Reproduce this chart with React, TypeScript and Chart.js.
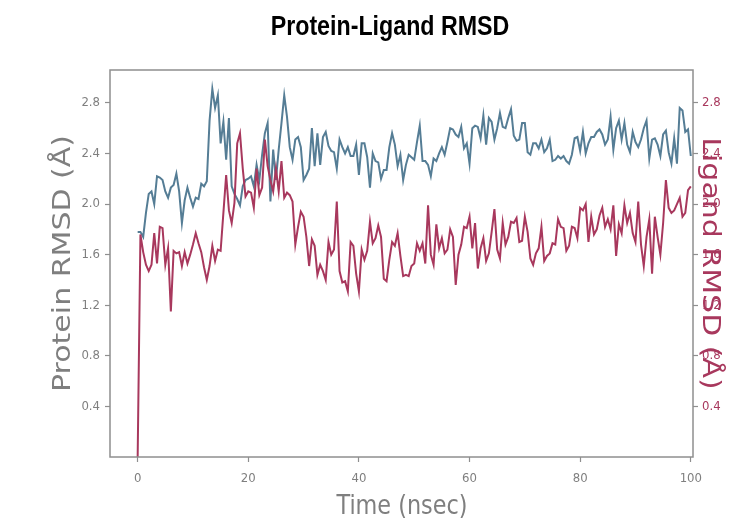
import React, { useEffect, useRef } from "react";
import { Chart, registerables } from "chart.js";

Chart.register(...registerables);

const TIME_STEP_NS = 0.5;

const proteinRmsd = [
  1.78, 1.78, 1.74, 1.93, 2.08, 2.10, 2.00, 2.22, 2.21, 2.19,
  2.10, 2.05, 2.13, 2.15, 2.24, 2.10, 1.85, 2.03, 2.13, 2.05,
  1.98, 2.05, 2.04, 2.16, 2.14, 2.18, 2.66, 2.91, 2.76, 2.86,
  2.48, 2.65, 2.35, 2.68, 2.14, 2.08, 2.04, 1.99, 2.14, 2.19,
  2.20, 2.22, 2.14, 2.31, 2.19, 2.39, 2.56, 2.64, 2.02, 2.43,
  2.19, 2.43, 2.64, 2.86, 2.69, 2.45, 2.35, 2.51, 2.53, 2.45,
  2.19, 2.23, 2.28, 2.60, 2.30, 2.56, 2.31, 2.53, 2.57, 2.46,
  2.42, 2.41, 2.28, 2.51, 2.45, 2.40, 2.45, 2.38, 2.38, 2.47,
  2.23, 2.48, 2.48, 2.37, 2.13, 2.40, 2.34, 2.33, 2.20, 2.27,
  2.27, 2.45, 2.56, 2.47, 2.30, 2.39, 2.19, 2.31, 2.39, 2.37,
  2.35, 2.49, 2.62, 2.34, 2.34, 2.31, 2.22, 2.36, 2.34, 2.40,
  2.45, 2.39, 2.49, 2.60, 2.59, 2.55, 2.53, 2.61, 2.44, 2.48,
  2.32, 2.60, 2.62, 2.61, 2.52, 2.70, 2.47, 2.68, 2.65, 2.51,
  2.60, 2.72, 2.61, 2.60, 2.68, 2.75, 2.54, 2.50, 2.51, 2.64,
  2.64, 2.41, 2.39, 2.48, 2.48, 2.44, 2.51, 2.41, 2.44, 2.51,
  2.34, 2.35, 2.38, 2.36, 2.38, 2.34, 2.32, 2.39, 2.52, 2.53,
  2.42, 2.57, 2.40, 2.48, 2.53, 2.53, 2.57, 2.59, 2.55, 2.47,
  2.51, 2.69, 2.43, 2.60, 2.66, 2.51, 2.64, 2.47, 2.41, 2.57,
  2.49, 2.45, 2.51, 2.60, 2.66, 2.36, 2.51, 2.52, 2.47, 2.38,
  2.55, 2.58, 2.41, 2.32, 2.52, 2.32, 2.76, 2.74, 2.57, 2.59,
  2.38,
];

const ligandRmsd = [
  0.00, 1.76, 1.62, 1.52, 1.47, 1.52, 1.77, 1.53, 1.82, 1.81,
  1.52, 1.65, 1.15, 1.63, 1.61, 1.62, 1.51, 1.62, 1.53, 1.60,
  1.68, 1.77, 1.69, 1.62, 1.50, 1.40, 1.51, 1.67, 1.55, 1.64,
  1.63, 1.93, 2.23, 1.95, 1.85, 2.01, 2.48, 2.56, 2.28, 2.06,
  2.10, 2.09, 1.97, 2.28, 2.07, 2.13, 2.51, 2.30, 2.19, 2.10,
  2.28, 2.10, 2.34, 2.05, 2.09, 2.07, 2.02, 1.68, 1.82, 1.94,
  1.90, 1.74, 1.51, 1.72, 1.67, 1.44, 1.52, 1.47, 1.40, 1.70,
  1.60, 1.64, 2.02, 1.47, 1.38, 1.39, 1.31, 1.70, 1.67, 1.45,
  1.31, 1.64, 1.56, 1.63, 1.86, 1.69, 1.73, 1.83, 1.74, 1.41,
  1.39, 1.56, 1.70, 1.67, 1.77, 1.59, 1.43, 1.44, 1.43, 1.51,
  1.53, 1.69, 1.63, 1.69, 1.53, 1.99, 1.60, 1.52, 1.84, 1.65,
  1.73, 1.61, 1.64, 1.80, 1.74, 1.36, 1.60, 1.68, 1.82, 1.81,
  1.90, 1.65, 1.85, 1.49, 1.65, 1.73, 1.55, 1.61, 1.78, 1.96,
  1.64, 1.57, 1.85, 1.68, 1.74, 1.86, 1.85, 1.89, 1.70, 1.71,
  1.90, 1.78, 1.57, 1.52, 1.61, 1.65, 1.82, 1.55, 1.59, 1.61,
  1.69, 1.68, 1.88, 1.82, 1.81, 1.63, 1.67, 1.82, 1.81, 1.73,
  1.97, 1.95, 2.00, 1.70, 1.90, 1.76, 1.80, 1.91, 1.97, 1.82,
  1.88, 1.80, 1.99, 1.59, 1.84, 1.77, 1.99, 1.85, 1.93, 1.77,
  1.70, 2.02, 1.68, 1.51, 1.74, 1.88, 1.45, 1.90, 1.74, 1.60,
  1.85, 2.19, 1.97, 1.93, 1.95, 2.00, 2.05, 1.90, 1.93, 2.11,
  2.14,
];

const xTickValues = [0, 20, 40, 60, 80, 100];
const yTickValues = [0.4, 0.8, 1.2, 1.6, 2.0, 2.4, 2.8];

const TITLE = "Protein-Ligand RMSD";
const X_TITLE = "Time (nsec)";
const Y_LEFT_TITLE = "Protein RMSD (Å)";
const Y_RIGHT_TITLE = "Ligand RMSD (Å)";

const BLUE = "#557d95";
const RED = "#a8385d";
const GRAY_TEXT = "#7f7f7f";
const AXIS_GRAY = "#8f8f8f";
const TICK_FONT = "'DejaVu Sans Condensed', 'DejaVu Sans', sans-serif";
const LABEL_FONT = "'DejaVu Sans', sans-serif";

export default function App() {
  const canvasRef = useRef<HTMLCanvasElement | null>(null);

  useEffect(() => {
    const canvas = canvasRef.current;
    if (!canvas) return;

    const proteinPoints = proteinRmsd.map((v, i) => ({ x: i * TIME_STEP_NS, y: v }));
    const ligandPoints = ligandRmsd.map((v, i) => ({ x: i * TIME_STEP_NS, y: v }));

    const decorPlugin = {
      id: "decor",
      afterDraw(chart: any) {
        const { ctx, chartArea } = chart;
        const { left, right, top, bottom } = chartArea;
        ctx.save();
        // frame
        ctx.strokeStyle = AXIS_GRAY;
        ctx.lineWidth = 1.5;
        ctx.strokeRect(left, top, right - left, bottom - top);

        ctx.textAlign = "center";
        ctx.textBaseline = "middle";

        // main title (condensed bold)
        ctx.save();
        ctx.translate(390, 28);
        ctx.scale(0.86, 1);
        ctx.fillStyle = "#000";
        ctx.font = "bold 27px 'Liberation Sans', Arial, sans-serif";
        ctx.fillText(TITLE, 0, 0);
        ctx.restore();

        // x title
        ctx.save();
        ctx.translate(402, 507);
        ctx.scale(0.92, 1);
        ctx.fillStyle = GRAY_TEXT;
        ctx.font = "27px 'DejaVu Sans Condensed', " + LABEL_FONT;
        ctx.fillText(X_TITLE, 0, 0);
        ctx.restore();

        const midY = (top + bottom) / 2;

        // left y title
        ctx.save();
        ctx.translate(64, midY);
        ctx.rotate(-Math.PI / 2);
        ctx.scale(1.25, 1);
        ctx.font = "24px " + LABEL_FONT;
        ctx.fillStyle = GRAY_TEXT;
        ctx.fillText(Y_LEFT_TITLE, 0, 0);
        ctx.restore();

        // right y title
        ctx.save();
        ctx.translate(709, midY);
        ctx.rotate(Math.PI / 2);
        ctx.scale(1.25, 1);
        ctx.font = "24px " + LABEL_FONT;
        ctx.fillStyle = RED;
        ctx.fillText(Y_RIGHT_TITLE, 0, 0);
        ctx.restore();

        ctx.restore();
      },
    };

    const tickGrid = {
      display: true,
      drawOnChartArea: false,
      drawTicks: true,
      tickLength: 5,
      tickColor: AXIS_GRAY,
      tickWidth: 1.2,
    };

    const chart = new Chart(canvas, {
      type: "line",
      data: {
        datasets: [
          {
            label: "Ligand",
            data: ligandPoints,
            borderColor: RED,
            borderWidth: 2,
            pointRadius: 0,
            tension: 0,
            yAxisID: "y1",
          },
          {
            label: "Protein",
            data: proteinPoints,
            borderColor: BLUE,
            borderWidth: 2,
            pointRadius: 0,
            tension: 0,
            yAxisID: "y",
          },
        ],
      },
      options: {
        animation: false,
        responsive: true,
        maintainAspectRatio: false,
        layout: { padding: { top: 70, left: 0, right: 0, bottom: 0 } },
        plugins: {
          legend: { display: false },
          title: { display: false },
          tooltip: { enabled: false },
        },
        scales: {
          x: {
            type: "linear",
            min: -5,
            max: 100.4,
            afterBuildTicks: (axis: any) => {
              axis.ticks = xTickValues.map((v) => ({ value: v }));
            },
            afterFit: (axis: any) => {
              axis.height = 64;
            },
            border: { display: false },
            grid: tickGrid,
            ticks: {
              color: GRAY_TEXT,
              font: { family: TICK_FONT, size: 13 },
              padding: 9,
              maxRotation: 0,
              callback: (v: any) => String(v),
            },
          },
          y: {
            type: "linear",
            position: "left",
            min: 0,
            max: 3.06,
            afterBuildTicks: (axis: any) => {
              axis.ticks = yTickValues.map((v) => ({ value: v }));
            },
            afterFit: (axis: any) => {
              axis.width = 110;
            },
            border: { display: false },
            grid: tickGrid,
            ticks: {
              color: GRAY_TEXT,
              font: { family: TICK_FONT, size: 13 },
              padding: 5,
              callback: (v: any) => Number(v).toFixed(1),
            },
          },
          y1: {
            type: "linear",
            position: "right",
            min: 0,
            max: 3.06,
            afterBuildTicks: (axis: any) => {
              axis.ticks = yTickValues.map((v) => ({ value: v }));
            },
            afterFit: (axis: any) => {
              axis.width = 51;
            },
            border: { display: false },
            grid: tickGrid,
            ticks: {
              color: RED,
              font: { family: TICK_FONT, size: 13 },
              padding: 4,
              callback: (v: any) => Number(v).toFixed(1),
            },
          },
        },
      },
      plugins: [decorPlugin],
    } as any);

    return () => {
      chart.destroy();
    };
  }, []);

  return (
    <div
      style={{
        position: "fixed",
        left: 0,
        top: 0,
        width: 744,
        height: 521,
        background: "#fff",
      }}
    >
      <canvas ref={canvasRef} />
    </div>
  );
}
